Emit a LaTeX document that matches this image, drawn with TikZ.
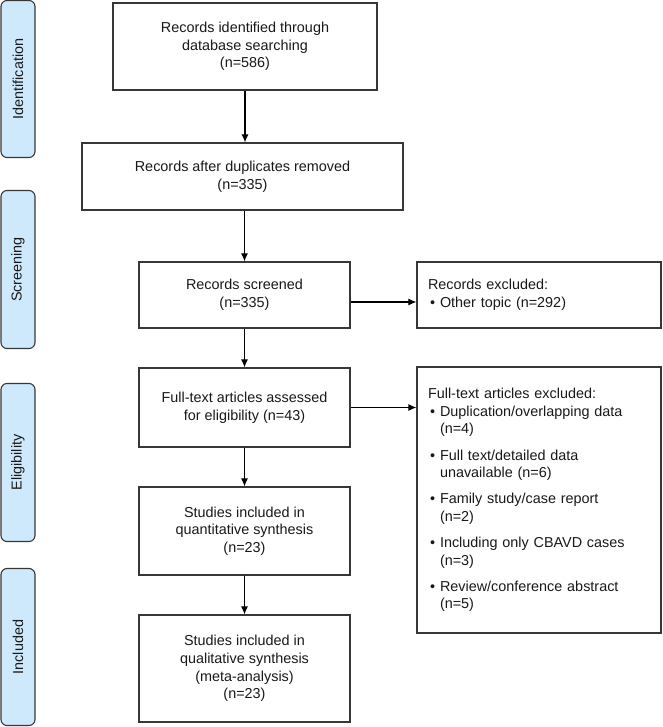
\documentclass[tikz,border=0pt]{standalone}
\usepackage{fontspec}
\setmainfont{Liberation Sans}
\usetikzlibrary{arrows.meta}
\definecolor{sidefill}{RGB}{207,233,252}
\definecolor{edge}{RGB}{55,55,55}
\definecolor{txt}{RGB}{25,25,25}
\tikzset{
  mainbox/.style={draw=edge, line width=1.2pt, fill=white, align=center, inner sep=2pt,
    font=\fontsize{14.4}{17.6}\selectfont, text=txt},
  sidebox/.style={draw=edge, line width=1.1pt, fill=sidefill, rounded corners=6pt, rotate=90,
    minimum height=34pt, font=\fontsize{14.4}{17.6}\selectfont, text=txt, inner sep=0pt},
  sidetext/.style={draw=edge, line width=1.2pt, fill=white, align=left, inner xsep=11pt,
    text width=222pt, minimum width=244pt, font=\fontsize{14.4}{17.6}\selectfont, text=txt},
  arr/.style={-{Latex[length=8pt,width=7pt]}, line width=1.1pt, black}
}
\newcommand{\bul}[1]{\makebox[12pt][l]{\hspace{2pt}•}#1}
\newcommand{\ind}[1]{\hspace*{12pt}#1}
\begin{document}
\begin{tikzpicture}[x=1pt,y=-1pt]
\useasboundingbox (0,0) rectangle (662,727);
% side labels
\node[sidebox, minimum width=157pt] (s1) at (18,79) {Identification};
\node[sidebox, minimum width=158pt] (s2) at (18,269.5) {Screening};
\node[sidebox, minimum width=158pt] (s3) at (18,462.5) {Eligibility};
\node[sidebox, minimum width=157pt] (s4) at (18,647) {Included};
% main boxes
\node[mainbox, minimum width=264pt, minimum height=87pt] (b1) at (245,46.5)
  {Records identified through\\database searching\\(n=586)};
\node[mainbox, minimum width=321pt, minimum height=67pt] (b2) at (242.5,176.5)
  {Records after duplicates removed\\(n=335)};
\node[mainbox, minimum width=211pt, minimum height=66pt] (b3) at (244.5,295)
  {Records screened\\(n=335)};
\node[mainbox, minimum width=211pt, minimum height=79pt] (b4) at (244.5,407.5)
  {Full-text articles assessed\\for eligibility (n=43)};
\node[mainbox, minimum width=211pt, minimum height=88pt] (b5) at (244.5,531)
  {Studies included in\\quantitative synthesis\\(n=23)};
\node[mainbox, minimum width=211pt, minimum height=107pt] (b6) at (244.5,668.5)
  {Studies included in\\qualitative synthesis\\(meta-analysis)\\(n=23)};
% right boxes
\node[sidetext, minimum height=66pt] (r1) at (539,295)
  {Records excluded:\\\bul{Other topic (n=292)}};
\node[sidetext, minimum height=266pt] (r2) at (539,500)
  {Full-text articles excluded:\\
   \bul{Duplication/overlapping data}\\\ind{(n=4)}\\[8.5pt]
   \bul{Full text/detailed data}\\\ind{unavailable (n=6)}\\[8.5pt]
   \bul{Family study/case report}\\\ind{(n=2)}\\[8.5pt]
   \bul{Including only CBAVD cases}\\\ind{(n=3)}\\[8.5pt]
   \bul{Review/conference abstract}\\\ind{(n=5)}};
% connectors
\draw[arr] (b1.south) -- (b1.south |- b2.north);
\draw[arr] (b2.south -| b3.north) -- (b3.north);
\draw[arr] (b3.south) -- (b4.north);
\draw[arr] (b4.south) -- (b5.north);
\draw[arr] (b5.south) -- (b6.north);
\draw[arr] ([yshift=-7pt]b3.east) -- ([yshift=-7pt]b3.east -| r1.west);
\draw[arr] (b4.east) -- (b4.east -| r2.west);
\end{tikzpicture}
\end{document}
